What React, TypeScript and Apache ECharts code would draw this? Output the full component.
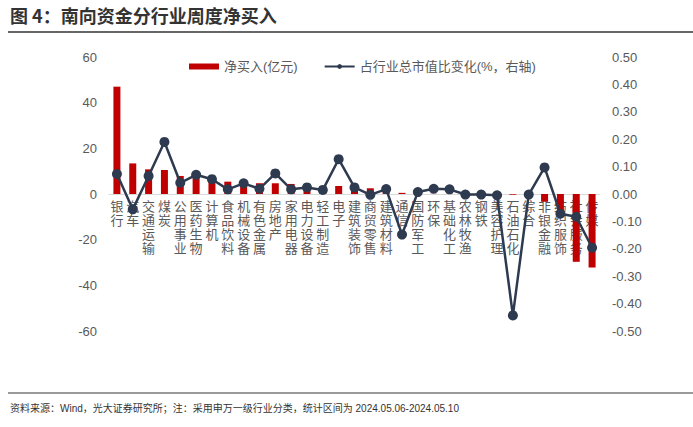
import React, { useEffect, useRef } from "react";
import * as echarts from "echarts";

const categories = [
  "银行", "汽车", "交通运输", "煤炭", "公用事业", "医药生物", "计算机", "食品饮料",
  "机械设备", "有色金属", "房地产", "家用电器", "电力设备", "轻工制造", "电子", "建筑装饰",
  "商贸零售", "建筑材料", "通信", "国防军工", "环保", "基础化工", "农林牧渔", "钢铁",
  "美容护理", "石油石化", "综合", "非银金融", "纺织服饰", "社会服务", "传媒",
];

const netBuy = [
  47, 13.4, 10.8, 10.5, 7.9, 7.2, 5.8, 5.4, 5.0, 4.7, 4.7, 4.4, 3.9, 3.5, 3.5, 3.2,
  2.5, 2.0, 0.5, 0.2, 0.1, 0.1, 0.1, 0.1, 0.1, -0.3, -0.1, -3.4, -10.0, -29.7, -32.2,
];

const shareChange = [
  0.073, -0.056, 0.066, 0.19, 0.041, 0.07, 0.054, 0.017, 0.039, 0.019, 0.075, 0.017,
  0.024, 0.015, 0.127, 0.024, -0.003, 0.018, -0.148, 0.007, 0.019, 0.017, -0.002,
  -0.002, -0.005, -0.443, -0.002, 0.097, -0.072, -0.083, -0.196,
];

const titleText = "图 4：南向资金分行业周度净买入";
const noteText =
  "资料来源：Wind，光大证券研究所；注：采用申万一级行业分类，统计区间为 2024.05.06-2024.05.10";

const FONT = "'Liberation Sans', 'Noto Sans CJK SC', sans-serif";
const CJK = "'Noto Sans CJK SC', sans-serif";

const GRID_TOP = 57;
const GRID_BOTTOM = 96;
const HEIGHT = 427;

export default function App() {
  const ref = useRef<HTMLDivElement>(null);
  useEffect(() => {
    document.body.style.margin = "0";
    if (!ref.current) return;
    const chart = echarts.init(ref.current, null, { renderer: "svg" });
    const gridH = HEIGHT - GRID_TOP - GRID_BOTTOM;
    chart.setOption({
      animation: false,
      backgroundColor: "#ffffff",
      textStyle: { fontFamily: FONT },
      graphic: [
        {
          type: "text",
          left: 10,
          top: 6,
          style: {
            text: titleText,
            fontFamily: CJK,
            fontSize: 18,
            fontWeight: "bold",
            fill: "#333333",
          },
        },
        {
          type: "line",
          shape: { x1: 8, y1: 32, x2: 693, y2: 32 },
          style: { stroke: "#333333", lineWidth: 1.5 },
        },
        {
          type: "line",
          shape: { x1: 8, y1: 393, x2: 693, y2: 393 },
          style: { stroke: "#9a9a9a", lineWidth: 2 },
        },
        {
          type: "text",
          left: 10,
          top: 403,
          style: {
            text: noteText,
            fontFamily: FONT,
            fontSize: 10,
            fill: "#333333",
          },
        },
      ],
      legend: {
        top: 55,
        left: 184,
        itemGap: 26,
        itemWidth: 30,
        itemHeight: 6,
        textStyle: { fontFamily: FONT, fontSize: 13, color: "#595959" },
        data: [
          { name: "净买入(亿元)", icon: "rect" },
          { name: "占行业总市值比变化(%，右轴)" },
        ],
      },
      grid: { left: 109, right: 93, top: GRID_TOP, bottom: GRID_BOTTOM },
      xAxis: {
        type: "category",
        data: categories,
        position: "bottom",
        offset: -gridH / 2,
        axisLine: { onZero: false, lineStyle: { color: "#d9d9d9", width: 1 } },
        axisTick: { show: false },
        axisLabel: {
          interval: 0,
          margin: 4,
          fontSize: 13,
          lineHeight: 14,
          color: "#595959",
          fontFamily: CJK,
          formatter: (v: string) => v.split("").join("\n"),
        },
      },
      yAxis: [
        {
          type: "value",
          min: -60,
          max: 60,
          interval: 20,
          splitLine: { show: false },
          axisLine: { show: false },
          axisTick: { show: false },
          axisLabel: { fontSize: 13, color: "#595959", margin: 12 },
        },
        {
          type: "value",
          min: -0.5,
          max: 0.5,
          interval: 0.1,
          splitLine: { show: false },
          axisLine: { show: false },
          axisTick: { show: false },
          axisLabel: {
            fontSize: 13,
            color: "#595959",
            margin: 12,
            formatter: (v: number) => v.toFixed(2),
          },
        },
      ],
      series: [
        {
          name: "净买入(亿元)",
          type: "bar",
          data: netBuy,
          barWidth: 7,
          itemStyle: { color: "#C00000" },
        },
        {
          name: "占行业总市值比变化(%，右轴)",
          type: "line",
          yAxisIndex: 1,
          data: shareChange,
          symbol: "circle",
          symbolSize: 10,
          lineStyle: { color: "#2E3A4F", width: 2.5 },
          itemStyle: { color: "#2E3A4F" },
        },
      ],
    });
    return () => chart.dispose();
  }, []);
  return <div ref={ref} style={{ width: 693, height: HEIGHT }} />;
}
